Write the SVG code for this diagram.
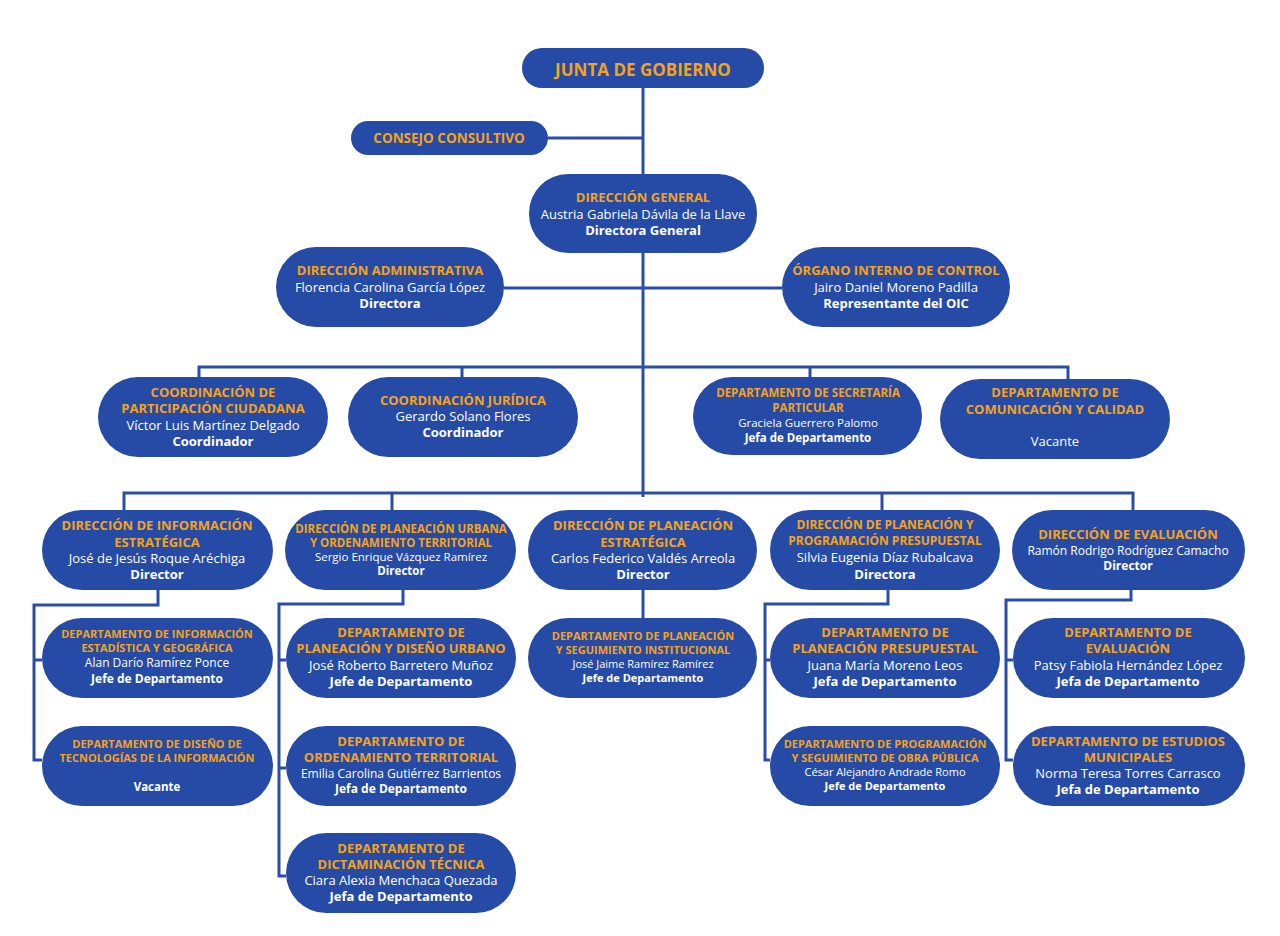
<svg xmlns="http://www.w3.org/2000/svg" width="1280" height="936" viewBox="0 0 1280 936">
<style>
.n{fill:#264ba6}
.t{fill:#f5a31a;font-family:"Open Sans",sans-serif;font-weight:700;text-anchor:middle}
.w{fill:#fff;font-family:"Open Sans",sans-serif;text-anchor:middle}
.b{font-weight:700}
.c{fill:none;stroke:#2a4ea8;stroke-width:3}
</style>
<rect width="1280" height="936" fill="#fff"/>
<g id="connectors" class="c">
<path d="M643 88V497M548 138H643M504 288H782"/>
<path d="M199 377V367H1068V379M462 367V377M810 367V377"/>
<path d="M124 510V493H1133V510M392 493V510M882 493V510"/>
<path d="M158 590V605H34V760H42M34 660H42"/>
<path d="M403 590V604H279V876H286M279 660H286M279 768H286"/>
<path d="M643 590V618"/>
<path d="M888 590V604H765V760H770M765 660H770"/>
<path d="M1131 590V600H1006V760H1013M1006 660H1013"/>
</g>
<g id="junta"><rect class="n" x="522" y="48" width="242" height="40" rx="20"/><text class="t" x="643" y="76" font-size="17">JUNTA DE GOBIERNO</text></g>
<g id="consejo"><rect class="n" x="351" y="121" width="197" height="34" rx="17"/><text class="t" x="449" y="143" font-size="13.5">CONSEJO CONSULTIVO</text></g>
<g id="dg"><rect class="n" x="529" y="174" width="228" height="79" rx="39"/><text class="t" x="643" y="202" font-size="13">DIRECCIÓN GENERAL</text><text class="w" x="643" y="219" font-size="13">Austria Gabriela Dávila de la Llave</text><text class="w b" x="643" y="235" font-size="13">Directora General</text></g>
<g id="dadmin"><rect class="n" x="276" y="247" width="228" height="80" rx="40"/><text class="t" x="390" y="275" font-size="13">DIRECCIÓN ADMINISTRATIVA</text><text class="w" x="390" y="292" font-size="13">Florencia Carolina García López</text><text class="w b" x="390" y="308" font-size="13">Directora</text></g>
<g id="oic"><rect class="n" x="782" y="247" width="228" height="80" rx="40"/><text class="t" x="896" y="275" font-size="13">ÓRGANO INTERNO DE CONTROL</text><text class="w" x="896" y="292" font-size="13">Jairo Daniel Moreno Padilla</text><text class="w b" x="896" y="308" font-size="13">Representante del OIC</text></g>
<g id="cpc"><rect class="n" x="98" y="377" width="230" height="80" rx="40"/><text class="t" x="213" y="397" font-size="13">COORDINACIÓN DE</text><text class="t" x="213" y="413" font-size="13">PARTICIPACIÓN CIUDADANA</text><text class="w" x="213" y="430" font-size="13">Víctor Luis Martínez Delgado</text><text class="w b" x="213" y="446" font-size="13">Coordinador</text></g>
<g id="cj"><rect class="n" x="348" y="377" width="230" height="80" rx="40"/><text class="t" x="463" y="405" font-size="13">COORDINACIÓN JURÍDICA</text><text class="w" x="463" y="421" font-size="13">Gerardo Solano Flores</text><text class="w b" x="463" y="437" font-size="13">Coordinador</text></g>
<g id="dsp"><rect class="n" x="693" y="377" width="229" height="78" rx="39"/><text class="t" x="808" y="397" font-size="11.5">DEPARTAMENTO DE SECRETARÍA</text><text class="t" x="808" y="412" font-size="11.5">PARTICULAR</text><text class="w" x="808" y="427" font-size="11.5">Graciela Guerrero Palomo</text><text class="w b" x="808" y="442" font-size="11.5">Jefa de Departamento</text></g>
<g id="dcc"><rect class="n" x="940" y="379" width="230" height="80" rx="40"/><text class="t" x="1055" y="397" font-size="13">DEPARTAMENTO DE</text><text class="t" x="1055" y="414" font-size="13">COMUNICACIÓN Y CALIDAD</text><text class="w" x="1055" y="446" font-size="13">Vacante</text></g>
<g id="die"><rect class="n" x="42" y="510" width="231" height="80" rx="40"/><text class="t" x="157" y="530" font-size="13">DIRECCIÓN DE INFORMACIÓN</text><text class="t" x="157" y="547" font-size="13">ESTRATÉGICA</text><text class="w" x="157" y="563" font-size="13">José de Jesús Roque Aréchiga</text><text class="w b" x="157" y="579" font-size="13">Director</text></g>
<g id="dpuot"><rect class="n" x="285" y="510" width="231" height="80" rx="40"/><text class="t" x="401" y="533" font-size="11.5">DIRECCIÓN DE PLANEACIÓN URBANA</text><text class="t" x="401" y="547" font-size="11.5">Y ORDENAMIENTO TERRITORIAL</text><text class="w" x="401" y="561" font-size="11.5">Sergio Enrique Vázquez Ramírez</text><text class="w b" x="401" y="575" font-size="11.5">Director</text></g>
<g id="dpe"><rect class="n" x="528" y="510" width="229" height="80" rx="40"/><text class="t" x="643" y="530" font-size="13">DIRECCIÓN DE PLANEACIÓN</text><text class="t" x="643" y="547" font-size="13">ESTRATÉGICA</text><text class="w" x="643" y="563" font-size="13">Carlos Federico Valdés Arreola</text><text class="w b" x="643" y="579" font-size="13">Director</text></g>
<g id="dppp"><rect class="n" x="770" y="510" width="230" height="80" rx="40"/><text class="t" x="885" y="529" font-size="12">DIRECCIÓN DE PLANEACIÓN Y</text><text class="t" x="885" y="545" font-size="12">PROGRAMACIÓN PRESUPUESTAL</text><text class="w" x="885" y="562" font-size="13">Silvia Eugenia Díaz Rubalcava</text><text class="w b" x="885" y="579" font-size="13">Directora</text></g>
<g id="dev"><rect class="n" x="1012" y="510" width="233" height="80" rx="40"/><text class="t" x="1128" y="539" font-size="13">DIRECCIÓN DE EVALUACIÓN</text><text class="w" x="1128" y="555" font-size="12">Ramón Rodrigo Rodríguez Camacho</text><text class="w b" x="1128" y="570" font-size="12">Director</text></g>
<g id="dieg"><rect class="n" x="42" y="618" width="231" height="80" rx="40"/><text class="t" x="157" y="638" font-size="11">DEPARTAMENTO DE INFORMACIÓN</text><text class="t" x="157" y="652" font-size="11">ESTADÍSTICA Y GEOGRÁFICA</text><text class="w" x="157" y="667" font-size="12">Alan Darío Ramírez Ponce</text><text class="w b" x="157" y="683" font-size="12">Jefe de Departamento</text></g>
<g id="ddti"><rect class="n" x="42" y="726" width="231" height="80" rx="40"/><text class="t" x="157" y="748" font-size="11">DEPARTAMENTO DE DISEÑO DE</text><text class="t" x="157" y="762" font-size="11">TECNOLOGÍAS DE LA INFORMACIÓN</text><text class="w b" x="157" y="791" font-size="11.5">Vacante</text></g>
<g id="dpdu"><rect class="n" x="286" y="618" width="230" height="80" rx="40"/><text class="t" x="401" y="637" font-size="13">DEPARTAMENTO DE</text><text class="t" x="401" y="653" font-size="13">PLANEACIÓN Y DISEÑO URBANO</text><text class="w" x="401" y="670" font-size="13">José Roberto Barretero Muñoz</text><text class="w b" x="401" y="686" font-size="13">Jefe de Departamento</text></g>
<g id="dot"><rect class="n" x="286" y="726" width="230" height="80" rx="40"/><text class="t" x="401" y="746" font-size="13">DEPARTAMENTO DE</text><text class="t" x="401" y="762" font-size="13">ORDENAMIENTO TERRITORIAL</text><text class="w" x="401" y="778" font-size="12">Emilia Carolina Gutiérrez Barrientos</text><text class="w b" x="401" y="793" font-size="12">Jefa de Departamento</text></g>
<g id="ddt"><rect class="n" x="286" y="833" width="230" height="80" rx="40"/><text class="t" x="401" y="853" font-size="13">DEPARTAMENTO DE</text><text class="t" x="401" y="869" font-size="13">DICTAMINACIÓN TÉCNICA</text><text class="w" x="401" y="885" font-size="13">Ciara Alexia Menchaca Quezada</text><text class="w b" x="401" y="901" font-size="13">Jefa de Departamento</text></g>
<g id="dpsi"><rect class="n" x="528" y="618" width="229" height="80" rx="40"/><text class="t" x="643" y="640" font-size="11">DEPARTAMENTO DE PLANEACIÓN</text><text class="t" x="643" y="654" font-size="11">Y SEGUIMIENTO INSTITUCIONAL</text><text class="w" x="643" y="668" font-size="11">José Jaime Ramírez Ramírez</text><text class="w b" x="643" y="682" font-size="11">Jefe de Departamento</text></g>
<g id="dpp"><rect class="n" x="770" y="618" width="230" height="80" rx="40"/><text class="t" x="885" y="637" font-size="13">DEPARTAMENTO DE</text><text class="t" x="885" y="653" font-size="13">PLANEACIÓN PRESUPUESTAL</text><text class="w" x="885" y="670" font-size="13">Juana María Moreno Leos</text><text class="w b" x="885" y="686" font-size="13">Jefa de Departamento</text></g>
<g id="dpsop"><rect class="n" x="770" y="726" width="230" height="80" rx="40"/><text class="t" x="885" y="748" font-size="11">DEPARTAMENTO DE PROGRAMACIÓN</text><text class="t" x="885" y="762" font-size="11">Y SEGUIMIENTO DE OBRA PÚBLICA</text><text class="w" x="885" y="776" font-size="11">César Alejandro Andrade Romo</text><text class="w b" x="885" y="790" font-size="11">Jefe de Departamento</text></g>
<g id="deval"><rect class="n" x="1013" y="618" width="232" height="80" rx="40"/><text class="t" x="1128" y="637" font-size="13">DEPARTAMENTO DE</text><text class="t" x="1128" y="653" font-size="13">EVALUACIÓN</text><text class="w" x="1128" y="670" font-size="13">Patsy Fabiola Hernández López</text><text class="w b" x="1128" y="686" font-size="13">Jefa de Departamento</text></g>
<g id="dem"><rect class="n" x="1013" y="726" width="232" height="80" rx="40"/><text class="t" x="1128" y="746" font-size="13">DEPARTAMENTO DE ESTUDIOS</text><text class="t" x="1128" y="762" font-size="13">MUNICIPALES</text><text class="w" x="1128" y="778" font-size="13">Norma Teresa Torres Carrasco</text><text class="w b" x="1128" y="794" font-size="13">Jefa de Departamento</text></g>
</svg>
